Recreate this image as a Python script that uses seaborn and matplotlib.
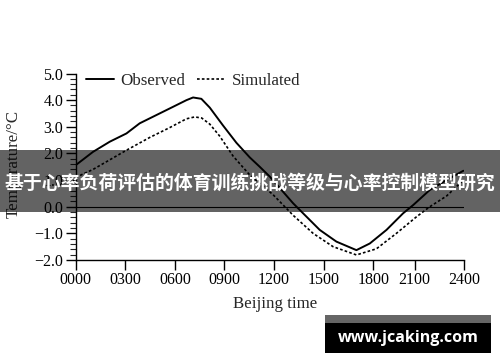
import numpy as np
import pandas as pd
import matplotlib
matplotlib.use("Agg")
import matplotlib.pyplot as plt
from matplotlib.ticker import MultipleLocator
from matplotlib.lines import Line2D
from matplotlib.patches import Rectangle
import seaborn as sns

# ---------------- data ----------------
obs_x = [0.0, 1.05, 2.06, 3.07, 3.87, 4.88, 5.89, 6.70, 7.10, 7.60, 8.11, 8.91,
         9.72, 10.53, 11.13, 11.74, 13.15, 13.55, 14.76, 15.77, 16.98, 17.79,
         18.80, 19.80, 20.41, 21.42, 22.43, 23.45]
obs_y = [1.56, 2.06, 2.44, 2.75, 3.13, 3.44, 3.75, 4.00, 4.10, 4.05, 3.72, 3.05,
         2.40, 1.85, 1.50, 1.13, 0.13, -0.12, -0.87, -1.31, -1.63, -1.38,
         -0.87, -0.25, 0.06, 0.63, 1.00, 1.35]

sim_x = [0.0, 1.05, 3.07, 4.48, 5.69, 6.70, 7.20, 7.62, 8.11, 8.71, 9.52, 10.53,
         11.94, 13.15, 14.36, 15.57, 16.98, 18.19, 19.40, 20.61, 21.42, 22.43, 23.45]
sim_y = [1.10, 1.40, 2.12, 2.60, 2.97, 3.30, 3.37, 3.33, 3.10, 2.65, 1.90, 1.19,
         0.45, -0.32, -1.00, -1.50, -1.81, -1.58, -1.00, -0.38, 0.00, 0.40, 1.00]

x_tick_pos = [0, 3, 6, 9, 12, 15, 18, 20.5, 23.5]
x_tick_labels = ["0000", "0300", "0600", "0900", "1200", "1500", "1800", "2100", "2400"]
y_ticks = [5.0, 4.0, 3.0, 2.0, 1.0, 0.0, -1.0, -2.0]
series_names = ["Observed", "Simulated"]

banner_text = "基于心率负荷评估的体育训练挑战等级与心率控制模型研究"
watermark_text = "www.jcaking.com"

# ---------------- plot ----------------
sns.set_style("ticks")
plt.rcParams["font.family"] = ["Liberation Serif", "DejaVu Serif"]
plt.rcParams["mathtext.fontset"] = "stix"

W, H = 500, 362
fig = plt.figure(figsize=(W / 100, H / 100), dpi=100)
ax_l, ax_r, ax_t, ax_b = 75.7, 464.2, 73.5, 260.0
ax = fig.add_axes([ax_l / W, 1 - ax_b / H, (ax_r - ax_l) / W, (ax_b - ax_t) / H])

df_obs = pd.DataFrame({"t": obs_x, "T": obs_y})
df_sim = pd.DataFrame({"t": sim_x, "T": sim_y})

sns.lineplot(data=df_obs, x="t", y="T", ax=ax, color="black", lw=1.4,
             estimator=None, sort=False)
sns.lineplot(data=df_sim, x="t", y="T", ax=ax, color="black", lw=1.2,
             linestyle=(0, (1.6, 1.3)), estimator=None, sort=False)

ax.axhline(0, color="black", lw=0.8, zorder=1)

ax.set_xlim(0, 23.5)
ax.set_ylim(-2.0, 5.0)
ax.set_xticks(x_tick_pos)
ax.set_xticklabels(x_tick_labels)
ax.set_yticks(y_ticks)
ax.set_yticklabels([f"{v:.1f}".replace("-", "\u2212") for v in y_ticks])
ax.yaxis.set_minor_locator(MultipleLocator(0.2))

for s in ["top", "right"]:
    ax.spines[s].set_visible(False)
for s in ["left", "bottom"]:
    ax.spines[s].set_linewidth(1.0)
    ax.spines[s].set_color("black")

ax.tick_params(axis="both", which="major", direction="out", length=7, width=1.0,
               labelsize=11.5, colors="black", pad=2)
ax.tick_params(axis="y", which="minor", direction="out", length=4, width=0.8)

ax.set_xlabel("Beijing time", fontsize=12.2)
ax.set_ylabel("Temperature/°C", fontsize=12.2)
ax.xaxis.set_label_coords((275 - ax_l) / (ax_r - ax_l), (ax_b - 296) / (ax_b - ax_t))
ax.yaxis.set_label_coords((22 - ax_l) / (ax_r - ax_l), (ax_b - 164) / (ax_b - ax_t))

handles = [Line2D([], [], color="black", lw=1.4),
           Line2D([], [], color="black", lw=1.2, linestyle=(0, (1.6, 1.3)))]
ax.legend(handles, series_names, ncol=2, frameon=False, fontsize=12.2,
          handlelength=1.65, handletextpad=0.4, columnspacing=0.7,
          loc="center left",
          bbox_to_anchor=((86 - ax_l) / (ax_r - ax_l), (ax_b - 81) / (ax_b - ax_t)),
          borderaxespad=0, borderpad=0)

# ---------------- overlay banner ----------------
fig.add_artist(Rectangle((0, 1 - 211.5 / H), 1, 61.5 / H, transform=fig.transFigure,
                         facecolor="black", alpha=0.61, edgecolor="none", zorder=10))
fig.text(0.5, 1 - 183.5 / H, banner_text, ha="center", va="center", color="white",
         fontsize=13.6, fontweight="bold",
         family=["Noto Sans CJK SC", "DejaVu Sans"], zorder=11)

# ---------------- watermark ----------------
fig.add_artist(Rectangle((325 / W, 1 - 323 / H), 166 / W, 8 / H, transform=fig.transFigure,
                         facecolor="#666666", edgecolor="none", zorder=10))
fig.add_artist(Rectangle((325 / W, 1 - 353 / H), 166 / W, 30 / H, transform=fig.transFigure,
                         facecolor="black", edgecolor="none", zorder=10))
fig.text(408 / W, 1 - 338 / H, watermark_text, ha="center", va="center", color="white",
         fontsize=11.5, fontweight="bold", family=["Open Sans", "DejaVu Sans"], zorder=11)

fig.savefig("out.png", dpi=100)
